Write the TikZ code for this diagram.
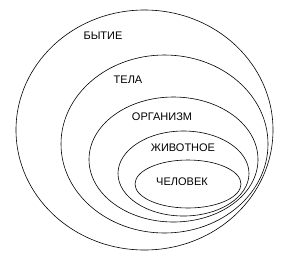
\documentclass[tikz,border=0pt]{standalone}
\usepackage{fontspec}
\setmainfont{Liberation Sans}
\usepackage{tikz}

\begin{document}
\begin{tikzpicture}[x=1pt,y=-1pt,
  levelring/.style={draw=black,line width=0.6pt},
  levellabel/.style={font=\fontsize{11}{13}\selectfont,inner sep=0pt}
]
  \useasboundingbox (0,0) rectangle (305,258);
  % nested levels, outer to inner
  \draw[levelring] (144.5,130) ellipse [x radius=128.5,y radius=120];
  \draw[levelring] (164.5,144) ellipse [x radius=103.5,y radius=89];
  \draw[levelring] (173.5,159.5) ellipse [x radius=84.5,y radius=62.5];
  \draw[levelring] (183.5,173.5) ellipse [x radius=65.5,y radius=42.5];
  \draw[levelring] (188,184) ellipse [x radius=53,y radius=24];

  \node[levellabel] (being) at (103,36) {БЫТИЕ};
  \node[levellabel] (bodies) at (128,80) {ТЕЛА};
  \node[levellabel] (organism) at (162,117) {ОРГАНИЗМ};
  \node[levellabel] (animal) at (183,148) {ЖИВОТНОЕ};
  \node[levellabel] (human) at (182,182) {ЧЕЛОВЕК};
\end{tikzpicture}
\end{document}
